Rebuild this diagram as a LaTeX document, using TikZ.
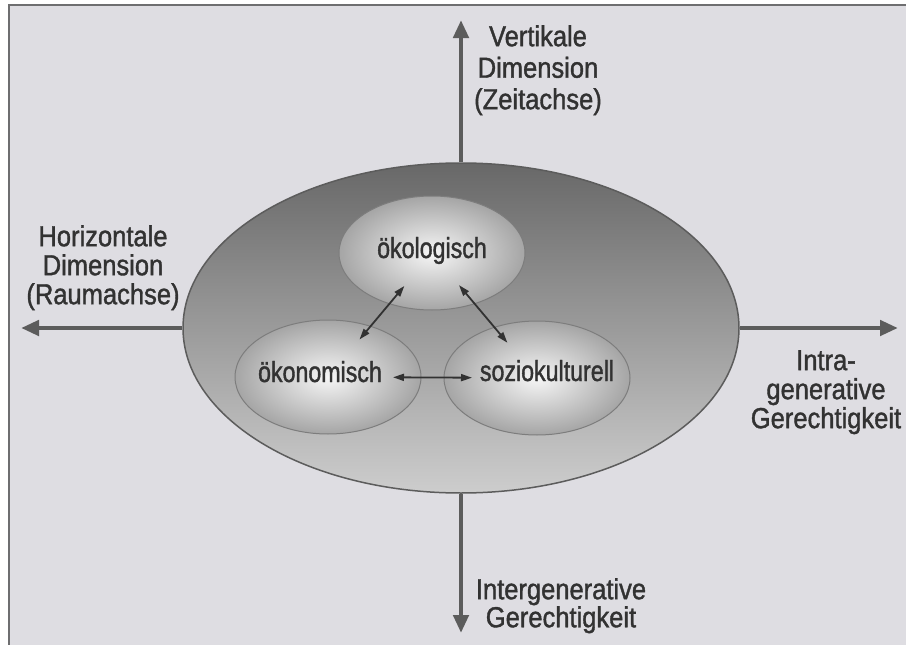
\documentclass[tikz,border=0pt]{standalone}
\usepackage{fontspec}
\setmainfont{Liberation Sans}
\newfontfamily\outerfont{Liberation Sans}[FakeStretch=0.88,FakeBold=1.3]
\newfontfamily\innerfont{Liberation Sans}[FakeStretch=0.8,FakeBold=1.3]
\usetikzlibrary{shapes.geometric,arrows.meta}
\definecolor{bgc}{RGB}{222,221,226}
\definecolor{framec}{RGB}{110,110,112}
\definecolor{axisc}{RGB}{92,92,92}
\definecolor{txtc}{RGB}{50,50,50}
\definecolor{bigtop}{RGB}{104,104,104}
\definecolor{bigmid}{RGB}{124,124,124}
\definecolor{bigbot}{RGB}{205,205,205}
\definecolor{inin}{RGB}{246,246,246}
\definecolor{inout}{RGB}{165,165,165}
\tikzset{
  axisline/.style={draw=axisc, line width=4.5pt, -{Triangle[length=18pt,width=15pt]}},
  bigell/.style={ellipse, draw=axisc, line width=1.5pt, minimum width=556pt, minimum height=330pt, inner sep=0pt,
    top color=bigtop, middle color=bigmid, bottom color=bigbot},
  smallell/.style={ellipse, draw=axisc!80, line width=1pt, minimum width=186pt, minimum height=114pt, inner sep=0pt,
    inner color=inin, outer color=inout},
  innerarrow/.style={draw=txtc, line width=1.8pt, {Triangle[length=11pt,width=7pt]}-{Triangle[length=11pt,width=7pt]}},
  innerlbl/.style={font=\innerfont\fontsize{29}{31}\selectfont, text=txtc, inner sep=0pt, anchor=base},
  outerlbl/.style={font=\outerfont\fontsize{29}{29}\selectfont, text=txtc, inner sep=0pt, anchor=north, align=center}
}
\begin{document}
\begin{tikzpicture}[x=1pt,y=-1pt]
\useasboundingbox (0,0) rectangle (906,645);
\fill[white] (0,0) rectangle (906,645);
\fill[bgc] (10,6) rectangle (906,645);
\draw[framec, line width=2pt] (9,645) -- (9,5) -- (906,5);

\node[bigell] (big) at (461,328) {};
\coordinate (ttop) at (461,20);
\coordinate (tbot) at (461,633);
\coordinate (tleft) at (21,328);
\coordinate (tright) at (898,328);
\draw[axisline] (big.north) -- (ttop);
\draw[axisline] (big.south) -- (tbot);
\draw[axisline] (big.west) -- (tleft);
\draw[axisline] (big.east) -- (tright);

\node[smallell] (oeko) at (432,253) {};
\node[smallell] (oekon) at (328,377) {};
\node[smallell] (sozio) at (537,378) {};

\draw[innerarrow, shorten <=43pt, shorten >=49pt] (oeko.center) -- (oekon.center);
\draw[innerarrow, shorten <=42pt, shorten >=46pt] (oeko.center) -- (sozio.center);
\draw[innerarrow, shorten <=65pt, shorten >=65pt] (oekon.center) -- (sozio.center);

\node[innerlbl] (l1) at (432,258) {ökologisch};
\node[innerlbl] (l2) at (320,382) {ökonomisch};
\node[innerlbl] (l3) at (547,381) {soziokulturell};

\node[outerlbl, font=\outerfont\fontsize{29}{31.5}\selectfont] (vt) at (538,25) {Vertikale\\Dimension\\(Zeitachse)};
\node[outerlbl] (hz) at (103,225) {Horizontale\\Dimension\\(Raumachse)};
\node[outerlbl] (ig) at (826,350) {Intra-\\generative\\Gerechtigkeit};
\node[outerlbl, font=\outerfont\fontsize{29}{27}\selectfont] (eg) at (561,578) {Intergenerative\\Gerechtigkeit};
\end{tikzpicture}
\end{document}
